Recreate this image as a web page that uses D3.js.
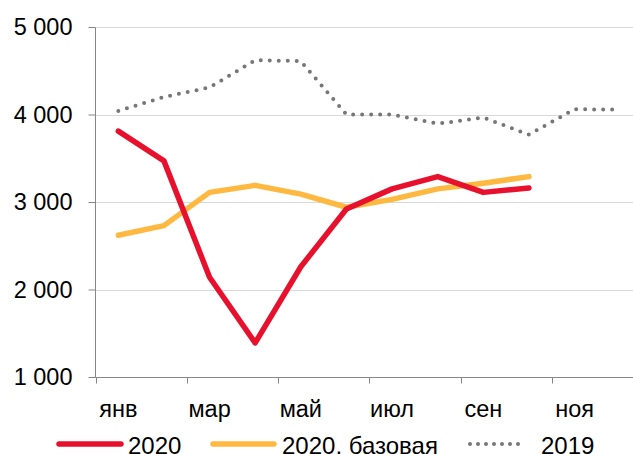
<!DOCTYPE html>
<html><head><meta charset="utf-8">
<script src="https://cdn.jsdelivr.net/npm/d3@7"></script>
<style>body{margin:0;background:#fff;} svg{display:block;font-family:"Liberation Sans",Arial,sans-serif;}</style>
</head><body>
<svg id="c" width="633" height="454"></svg>
<script>
const months = ["янв","фев","мар","апр","май","июн","июл","авг","сен","окт","ноя","дек"];
const tickLabels = ["янв","мар","май","июл","сен","ноя"];
const yTicks = [1000,2000,3000,4000,5000];
const s2020 = [3810,3470,2140,1390,2260,2920,3150,3290,3110,3160];
const s2020base = [2620,2730,3110,3190,3090,2940,3030,3150,3215,3290];
const s2019 = [4040,4200,4310,4620,4610,4000,4000,3895,3965,3770,4060,4055];
const seriesNames = ["2020","2020, базовая","2019"];

const svg = d3.select("#c");
const x = d3.scaleBand().domain(months).range([95.5, 643]);
const y = d3.scaleLinear().domain([1000,5000]).range([377, 27]);

// gridlines
svg.append("g").selectAll("line").data(yTicks.slice(1)).join("line")
  .attr("x1",95.5).attr("x2",643).attr("y1",d=>Math.round(y(d))+0.5).attr("y2",d=>Math.round(y(d))+0.5)
  .attr("stroke","#d9d9d9").attr("stroke-width",1.2);

// y axis
const yAxis = svg.append("g").attr("transform","translate(95.5,0)")
  .call(d3.axisLeft(y).tickValues(yTicks).tickSize(7).tickPadding(16)
    .tickFormat(d=>d3.format(",")(d).replace(",", " ")));
yAxis.select(".domain").attr("stroke","#868686").attr("d","M0,27.5V377.5");
yAxis.selectAll(".tick line").attr("stroke","#868686");
yAxis.selectAll(".tick text").attr("fill","#000").attr("font-size","23.5px").attr("font-family","Liberation Sans, Arial, sans-serif");

// x axis
const xg = svg.append("g").attr("transform","translate(0,377.5)");
xg.append("line").attr("x1",95.5).attr("x2",643).attr("stroke","#868686");
const bw = x.bandwidth();
const tickPos = months.filter((m,i)=>i%2===0).map(m=>x(m));
xg.selectAll(".tk").data(tickPos).join("line").attr("class","tk")
  .attr("x1",d=>Math.round(d)+0.5).attr("x2",d=>Math.round(d)+0.5).attr("y1",0).attr("y2",6)
  .attr("stroke","#868686");
xg.selectAll(".tl").data(tickLabels).join("text").attr("class","tl")
  .attr("x",d=>x(d)+bw/2).attr("y",39).attr("text-anchor","middle")
  .attr("font-size","23.5px").attr("fill","#000").text(d=>d);

const line = d3.line().x((d,i)=>x(months[i])+bw/2).y(d=>y(d));

svg.append("path").datum(s2019).attr("d",line).attr("fill","none")
  .attr("stroke","#767676").attr("stroke-width",4).attr("stroke-linecap","round")
  .attr("stroke-dasharray","0 9");
svg.append("path").datum(s2020base).attr("d",line).attr("fill","none")
  .attr("stroke","#ffb940").attr("stroke-width",5.5).attr("stroke-linejoin","round").attr("stroke-linecap","round");
svg.append("path").datum(s2020).attr("d",line).attr("fill","none")
  .attr("stroke","#e8112d").attr("stroke-width",5.5).attr("stroke-linejoin","round").attr("stroke-linecap","round");

// legend
const leg = [
  {name:seriesNames[0], x1:59, x2:121, tx:128, color:"#e8112d", dash:null, w:5.5},
  {name:seriesNames[1], x1:213, x2:274, tx:282, color:"#ffb940", dash:null, w:5.5},
  {name:seriesNames[2], x1:470, x2:525, tx:541, color:"#767676", dash:"0 8", w:4},
];
const lg = svg.append("g");
leg.forEach(l=>{
  const ln = lg.append("line").attr("x1",l.x1).attr("x2",l.x2).attr("y1",444).attr("y2",444)
    .attr("stroke",l.color).attr("stroke-width",l.w).attr("stroke-linecap","round");
  if(l.dash) ln.attr("stroke-dasharray",l.dash);
  lg.append("text").attr("x",l.tx).attr("y",453.5).attr("font-size","24px").attr("fill","#000").text(l.name);
});
</script>
</body></html>
